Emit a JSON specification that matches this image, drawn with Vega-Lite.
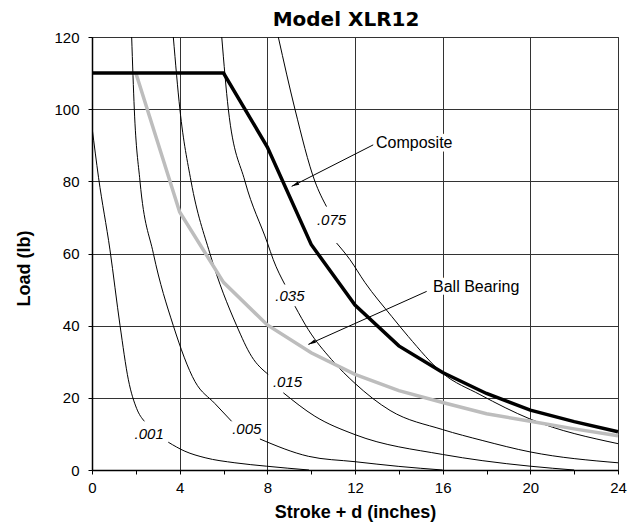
{
  "$schema": "https://vega.github.io/schema/vega-lite/v6.json",
  "width": 526,
  "height": 433,
  "autosize": {"type": "none"},
  "padding": {"left": 92, "top": 37, "right": 21, "bottom": 52},
  "background": "white",
  "title": {"text": "Model XLR12", "font": "DejaVu Sans", "fontSize": 20, "fontWeight": "bold", "color": "black", "anchor": "middle", "frame": "group", "baseline": "bottom", "offset": 5, "dx": -9, "dy": 25},
  "config": {
    "view": {"stroke": "#333333", "strokeWidth": 1},
    "axis": {
      "labelFont": "Liberation Sans",
      "labelFontSize": 15,
      "labelColor": "black",
      "titleFont": "Liberation Sans",
      "titleFontSize": 18,
      "titleFontWeight": "bold",
      "titleColor": "black",
      "domainColor": "black",
      "domainWidth": 1.5,
      "tickColor": "black",
      "tickWidth": 1,
      "tickSize": 4,
      "gridColor": "#333333",
      "gridWidth": 1,
      "labelOverlap": false,
      "labelFlush": false
    }
  },
  "datasets": {
    "curves": [
      {"c": ".001", "p": "a", "x": 0, "y": 95},
      {"c": ".001", "p": "a", "x": 0.3, "y": 81},
      {"c": ".001", "p": "a", "x": 0.82, "y": 61},
      {"c": ".001", "p": "a", "x": 1.28, "y": 40},
      {"c": ".001", "p": "a", "x": 1.66, "y": 25},
      {"c": ".001", "p": "a", "x": 2.04, "y": 17},
      {"c": ".001", "p": "a", "x": 2.39, "y": 13.5},
      {"c": ".001", "p": "b", "x": 3.48, "y": 7.7},
      {"c": ".001", "p": "b", "x": 4.24, "y": 5.2},
      {"c": ".001", "p": "b", "x": 5.16, "y": 3.4},
      {"c": ".001", "p": "b", "x": 6.52, "y": 2.0},
      {"c": ".001", "p": "b", "x": 7.97, "y": 1.05},
      {"c": ".001", "p": "b", "x": 9.9, "y": 0},
      {"c": ".005", "p": "a", "x": 1.81, "y": 120},
      {"c": ".005", "p": "a", "x": 1.93, "y": 100},
      {"c": ".005", "p": "a", "x": 2.19, "y": 80},
      {"c": ".005", "p": "a", "x": 2.8, "y": 60},
      {"c": ".005", "p": "a", "x": 3.71, "y": 40},
      {"c": ".005", "p": "a", "x": 4.7, "y": 24.5},
      {"c": ".005", "p": "a", "x": 5.61, "y": 18.4},
      {"c": ".005", "p": "a", "x": 6.37, "y": 13.5},
      {"c": ".005", "p": "b", "x": 7.66, "y": 8.6},
      {"c": ".005", "p": "b", "x": 9.87, "y": 3.8},
      {"c": ".005", "p": "b", "x": 12, "y": 2.3},
      {"c": ".005", "p": "b", "x": 14, "y": 1.0},
      {"c": ".005", "p": "b", "x": 16, "y": 0},
      {"c": ".015", "p": "a", "x": 3.71, "y": 120},
      {"c": ".015", "p": "a", "x": 4.01, "y": 100},
      {"c": ".015", "p": "a", "x": 4.52, "y": 80},
      {"c": ".015", "p": "a", "x": 5.38, "y": 60},
      {"c": ".015", "p": "a", "x": 6.6, "y": 40},
      {"c": ".015", "p": "a", "x": 7.28, "y": 31.5},
      {"c": ".015", "p": "a", "x": 8.04, "y": 26.5},
      {"c": ".015", "p": "b", "x": 8.73, "y": 21.4},
      {"c": ".015", "p": "b", "x": 10.17, "y": 14.9},
      {"c": ".015", "p": "b", "x": 12, "y": 9.8},
      {"c": ".015", "p": "b", "x": 16, "y": 4.3},
      {"c": ".015", "p": "b", "x": 17.8, "y": 2.6},
      {"c": ".015", "p": "b", "x": 20, "y": 1.05},
      {"c": ".015", "p": "b", "x": 22, "y": 0},
      {"c": ".035", "p": "a", "x": 5.92, "y": 120},
      {"c": ".035", "p": "a", "x": 6.22, "y": 100},
      {"c": ".035", "p": "a", "x": 6.98, "y": 80},
      {"c": ".035", "p": "a", "x": 8.0, "y": 63},
      {"c": ".035", "p": "a", "x": 8.27, "y": 58.3},
      {"c": ".035", "p": "a", "x": 8.8, "y": 51.4},
      {"c": ".035", "p": "b", "x": 9.26, "y": 45.4},
      {"c": ".035", "p": "b", "x": 9.87, "y": 38.9},
      {"c": ".035", "p": "b", "x": 10.93, "y": 30.6},
      {"c": ".035", "p": "b", "x": 12, "y": 24},
      {"c": ".035", "p": "b", "x": 13.6, "y": 16.5},
      {"c": ".035", "p": "b", "x": 16, "y": 11.2},
      {"c": ".035", "p": "b", "x": 17.8, "y": 8.2},
      {"c": ".035", "p": "b", "x": 20, "y": 5.0},
      {"c": ".035", "p": "b", "x": 24, "y": 2.0},
      {"c": ".075", "p": "a", "x": 8.5, "y": 120},
      {"c": ".075", "p": "a", "x": 9.26, "y": 100},
      {"c": ".075", "p": "a", "x": 10.17, "y": 80},
      {"c": ".075", "p": "a", "x": 10.7, "y": 73},
      {"c": ".075", "p": "b", "x": 11.16, "y": 62.9},
      {"c": ".075", "p": "b", "x": 11.77, "y": 58.3},
      {"c": ".075", "p": "b", "x": 12.45, "y": 52},
      {"c": ".075", "p": "b", "x": 13.67, "y": 42.6},
      {"c": ".075", "p": "b", "x": 14.43, "y": 37},
      {"c": ".075", "p": "b", "x": 16, "y": 26.8},
      {"c": ".075", "p": "b", "x": 17.7, "y": 20.9},
      {"c": ".075", "p": "b", "x": 20, "y": 14.1},
      {"c": ".075", "p": "b", "x": 24, "y": 7.3}
    ],
    "ball": [
      {"x": 2, "y": 110}, {"x": 4, "y": 71.5}, {"x": 6, "y": 52}, {"x": 8, "y": 40.2},
      {"x": 10, "y": 32.5}, {"x": 12, "y": 26.5}, {"x": 14, "y": 22}, {"x": 16, "y": 18.7},
      {"x": 18, "y": 15.6}, {"x": 20, "y": 13.5}, {"x": 22, "y": 11.4}, {"x": 24, "y": 9.5}
    ],
    "composite": [
      {"x": 0, "y": 110}, {"x": 6, "y": 110}, {"x": 8, "y": 89.5}, {"x": 10, "y": 62.5},
      {"x": 12, "y": 45.7}, {"x": 14, "y": 34.4}, {"x": 16, "y": 27}, {"x": 18, "y": 21.2},
      {"x": 20, "y": 16.6}, {"x": 22, "y": 13.4}, {"x": 24, "y": 10.6}
    ],
    "curvelabels": [
      {"label": ".001", "x": 2.61, "y": 9.9},
      {"label": ".005", "x": 7.06, "y": 11.4},
      {"label": ".015", "x": 8.92, "y": 24.4},
      {"label": ".035", "x": 9.03, "y": 48.1},
      {"label": ".075", "x": 10.93, "y": 69.2}
    ],
    "notes": [
      {"label": "Composite", "tx": 12.96, "ty": 90.7, "x": 12.83, "y": 90.1, "x2": 9.11, "y2": 78.6},
      {"label": "Ball Bearing", "tx": 15.56, "ty": 50.8, "x": 15.27, "y": 49.5, "x2": 9.87, "y2": 34.8}
    ]
  },
  "layer": [
    {
      "data": {"name": "curves"},
      "mark": {"type": "line", "color": "black", "strokeWidth": 1, "interpolate": "monotone", "clip": true},
      "encoding": {
        "x": {
          "field": "x", "type": "quantitative",
          "scale": {"domain": [0, 24], "nice": false},
          "axis": {
            "title": "Stroke + d (inches)",
            "values": [0,1,2,3,4,5,6,7,8,9,10,11,12,13,14,15,16,17,18,19,20,21,22,23,24],
            "labelExpr": "datum.value % 4 === 0 ? datum.label : ''",
            "gridOpacity": {"condition": {"test": "datum.value % 4 === 0", "value": 1}, "value": 0},
            "labelPadding": 6,
            "titleBaseline": "alphabetic",
            "titleY": 47.5
          }
        },
        "y": {
          "field": "y", "type": "quantitative",
          "scale": {"domain": [0, 120], "nice": false},
          "axis": {
            "title": "Load (lb)",
            "values": [0,5,10,15,20,25,30,35,40,45,50,55,60,65,70,75,80,85,90,95,100,105,110,115,120],
            "labelExpr": "datum.value % 20 === 0 ? datum.label : ''",
            "gridOpacity": {"condition": {"test": "datum.value % 20 === 0", "value": 1}, "value": 0},
            "labelPadding": 9,
            "titleAngle": -90,
            "titleBaseline": "alphabetic",
            "titleAlign": "center",
            "titleX": -63,
            "titleY": 231
          }
        },
        "detail": [{"field": "c"}, {"field": "p"}]
      }
    },
    {
      "data": {"name": "ball"},
      "mark": {"type": "line", "color": "#bdbdbd", "strokeWidth": 3.5},
      "encoding": {
        "x": {"field": "x", "type": "quantitative"},
        "y": {"field": "y", "type": "quantitative"}
      }
    },
    {
      "data": {"name": "composite"},
      "mark": {"type": "line", "color": "black", "strokeWidth": 3.5},
      "encoding": {
        "x": {"field": "x", "type": "quantitative"},
        "y": {"field": "y", "type": "quantitative"}
      }
    },
    {
      "data": {"name": "curvelabels"},
      "mark": {"type": "text", "font": "Liberation Sans", "fontSize": 15, "fontStyle": "italic", "color": "black", "align": "center", "baseline": "middle"},
      "encoding": {
        "x": {"field": "x", "type": "quantitative"},
        "y": {"field": "y", "type": "quantitative"},
        "text": {"field": "label"}
      }
    },
    {
      "data": {"name": "notes"},
      "mark": {"type": "text", "font": "Liberation Sans", "fontSize": 16, "color": "white", "stroke": "white", "strokeWidth": 7, "strokeJoin": "round", "align": "left", "baseline": "middle"},
      "encoding": {
        "x": {"field": "tx", "type": "quantitative"},
        "y": {"field": "ty", "type": "quantitative"},
        "text": {"field": "label"}
      }
    },
    {
      "data": {"name": "notes"},
      "mark": {"type": "text", "font": "Liberation Sans", "fontSize": 16, "color": "black", "align": "left", "baseline": "middle"},
      "encoding": {
        "x": {"field": "tx", "type": "quantitative"},
        "y": {"field": "ty", "type": "quantitative"},
        "text": {"field": "label"}
      }
    },
    {
      "data": {"name": "notes"},
      "mark": {"type": "rule", "color": "black", "strokeWidth": 1},
      "encoding": {
        "x": {"field": "x", "type": "quantitative"},
        "y": {"field": "y", "type": "quantitative"},
        "x2": {"field": "x2"},
        "y2": {"field": "y2"}
      }
    },
    {
      "data": {"name": "notes"},
      "mark": {"type": "point", "shape": "M0,-1L0.38,0.6L-0.38,0.6Z", "filled": true, "color": "black", "opacity": 1, "size": 90, "angle": 244, "xOffset": 4.3, "yOffset": -2.1},
      "encoding": {
        "x": {"field": "x2", "type": "quantitative"},
        "y": {"field": "y2", "type": "quantitative"}
      }
    }
  ]
}
